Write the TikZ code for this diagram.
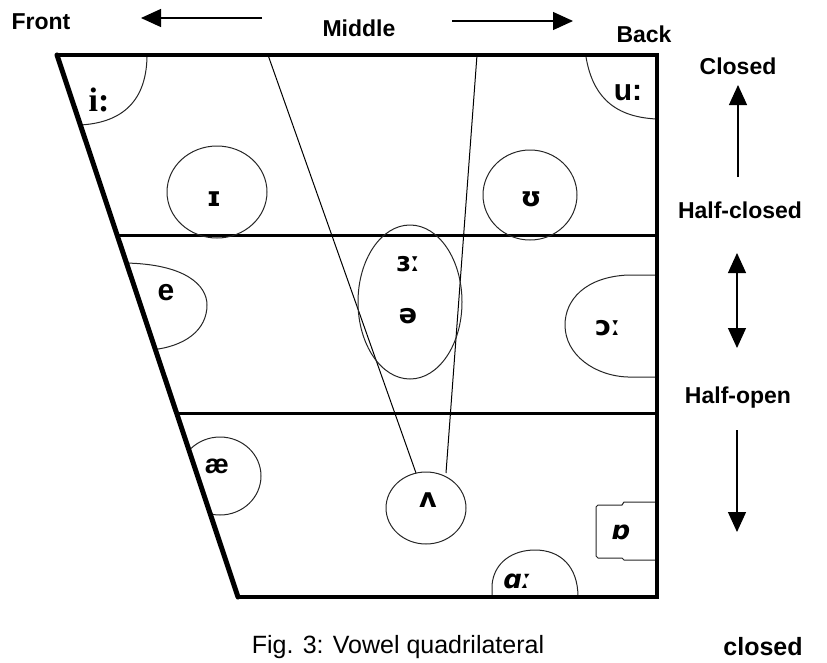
\documentclass[tikz,border=0pt]{standalone}
\usepackage{fontspec}
\setmainfont{Liberation Sans}
\newfontfamily\ipafont{DejaVu Sans}
\newfontfamily\seriffont{Liberation Serif}
\usetikzlibrary{arrows.meta}
\begin{document}
\begin{tikzpicture}[x=1pt,y=-1pt,
  outer/.style={line width=4pt, line join=miter},
  leftedge/.style={line width=5pt, line cap=round},
  mid/.style={line width=3pt},
  guide/.style={line width=1pt},
  region/.style={line width=1pt, draw=black!85},
  lbl/.style={font=\fontsize{23}{27}\selectfont\bfseries, inner sep=0pt},
  captext/.style={font=\fontsize{25}{29}\selectfont, inner sep=0pt},
  captextb/.style={font=\fontsize{25}{29}\selectfont\bfseries, inner sep=0pt},
  ipa/.style={font=\fontsize{27}{31}\selectfont\ipafont\bfseries, inner sep=0pt},
  ipai/.style={font=\fontsize{26}{30}\selectfont\ipafont\bfseries\itshape, inner sep=0pt},
  big/.style={font=\fontsize{30}{34}\selectfont\bfseries, inner sep=0pt},
  arr/.style={line width=1.2pt, -{Triangle[length=20pt,width=18pt]}},
  darr/.style={line width=1.2pt, {Triangle[length=20pt,width=18pt]}-{Triangle[length=20pt,width=18pt]}},
]
\useasboundingbox (0,0) rectangle (827,662);

% corners
\coordinate (TL) at (57,55);
\coordinate (TR) at (657,55);
\coordinate (BR) at (657,597);
\coordinate (BL) at (238,597);
\coordinate (H1L) at (117,235);
\coordinate (H1R) at (657,235);
\coordinate (H2L) at (177,413);
\coordinate (H2R) at (657,413);
\coordinate (M1T) at (268,55);
\coordinate (M1B) at (416,473);
\coordinate (M2T) at (477,55);
\coordinate (M2B) at (446,473);

% interior lines
\draw[mid] (H1L) -- (H1R);
\draw[mid] (H2L) -- (H2R);
\draw[guide] (M1T) -- (M1B);
\draw[guide] (M2T) -- (M2B);

% vowel regions
\begin{scope}
\clip (TL) -- (TR) -- (BR) -- (BL) -- cycle;
\draw[region] (147,57) .. controls (146,105) and (118,123) .. (80,125);
\draw[region] (586,57) .. controls (592,92) and (610,117) .. (657,119);
\draw[region] (217,192) ellipse [x radius=50pt, y radius=46pt];
\draw[region] (530,195) ellipse [x radius=47pt, y radius=45pt];
\draw[region] (125,263) .. controls (185,264) and (207,285) .. (207,305)
                        .. controls (207,330) and (185,347) .. (150,350);
\draw[region] (410,302) ellipse [x radius=52pt, y radius=77pt];
\draw[region] (657,275) -- (628,275) .. controls (585,277) and (565,300) .. (565,325)
                        .. controls (565,355) and (595,376) .. (628,377) -- (657,377);
\draw[region] (220,476) ellipse [x radius=41pt, y radius=39pt];
\draw[region] (426,508) ellipse [x radius=40pt, y radius=36pt];
\draw[region] (657,502) -- (624,502) -- (622,505) -- (598,505) -- (596,507) -- (596,556)
                        -- (598,558) -- (622,558) -- (624,560) -- (657,560);
\draw[region] (492,597) -- (492,585) .. controls (494,562) and (513,550) .. (535,550)
                        .. controls (560,550) and (578,566) .. (578,597);
\end{scope}

% outline
\draw[outer] (TL) -- (TR) -- (BR) -- (BL);
\draw[leftedge] (TL) -- (BL);

% vowel labels
\node[font=\fontsize{34}{38}\selectfont\seriffont\bfseries, inner sep=0pt] (vi) at (99,100) {i:};
\node[big] (vu) at (628,93) {u:};
\node[ipa] (vI) at (214,199) {ɪ};
\node[ipa] (vU) at (531,199) {ʊ};
\node[big] (ve) at (166,293) {e};
\node[ipa] (v3) at (408,264) {ɜː};
\node[ipa] (vschwa) at (408,316) {ə};
\node[ipa] (vO) at (608,328) {ɔː};
\node[lbl, font=\fontsize{27}{31}\selectfont\bfseries] (vae) at (217,466) {æ};
\node[ipa] (vV) at (428,500) {ʌ};
\node[ipai] (vQ) at (622,532) {ɒ};
\node[ipai] (vA) at (517,581) {ɑː};

% axis labels
\node[lbl] (front) at (41,22) {Front};
\node[lbl] (middle) at (359,28) {Middle};
\node[lbl] (back) at (644,34) {Back};
\node[lbl] (closed) at (738,66) {Closed};
\node[lbl] (halfclosed) at (740,210) {Half-closed};
\node[lbl] (halfopen) at (738,398) {Half-open};

\coordinate (AL1) at (262,18);
\coordinate (AL2) at (141,18);
\coordinate (AR1) at (452,21);
\coordinate (AR2) at (573,21);
\coordinate (AU1) at (738,177);
\coordinate (AU2) at (738,85);
\coordinate (AD1) at (737,253);
\coordinate (AD2) at (737,348);
\coordinate (AO1) at (737,430);
\coordinate (AO2) at (737,532);
\draw[arr] (AL1) -- (AL2);
\draw[arr] (AR1) -- (AR2);
\draw[arr] (AU1) -- (AU2);
\draw[darr] (AD1) -- (AD2);
\draw[arr] (AO1) -- (AO2);

% caption
\node[captext] (caption) at (398,647) {Fig. 3: Vowel quadrilateral};
\node[captextb] (closedcap) at (763,647) {closed};
\end{tikzpicture}
\end{document}
